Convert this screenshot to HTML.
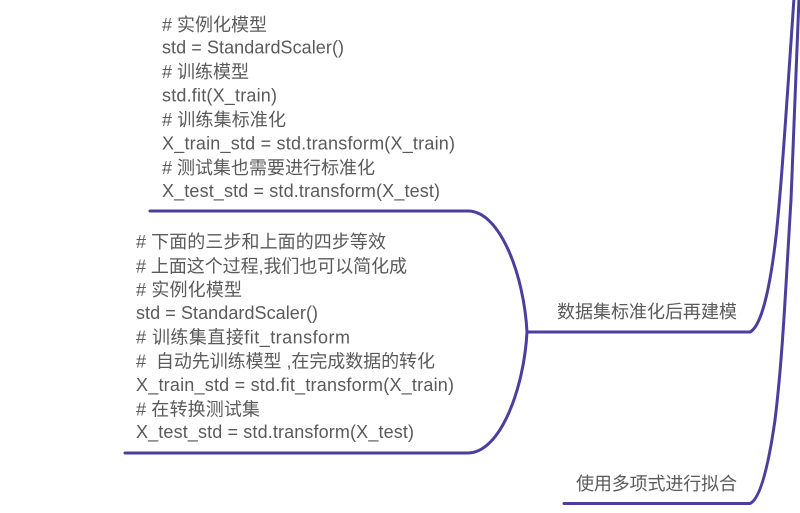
<!DOCTYPE html>
<html lang="zh">
<head>
<meta charset="utf-8">
<title>数据集标准化后再建模</title>
<style>
html,body{margin:0;padding:0;background:#fff;width:800px;height:513px;overflow:hidden}
svg{display:block}
text{font-family:"Liberation Sans","Noto Sans CJK SC",sans-serif;font-size:18px;fill:#5a5a5a}
g{filter:blur(.3px)}
path{fill:none;stroke:#4a3f9c;stroke-width:3;stroke-linecap:round}
</style>
</head>
<body>
<svg width="800" height="513" viewBox="0 0 800 513" xmlns="http://www.w3.org/2000/svg">
<path d="M150 211H468C500 211 524 275 527 332C524 389 500 453 468 453H125"/>
<path d="M527 332H750C762 326 770 285 775 245C780 205 785 130 794 -2"/>
<path d="M564 503.5H750C762 498 770 455 775 420C783 355 786 280 791 200C794 140 796 60 799 -2"/>
<g>
<text x="162" y="31" textLength="105" lengthAdjust="spacing">#&#160;实例化模型</text>
<text x="162" y="53.5" textLength="182" lengthAdjust="spacing">std = StandardScaler()</text>
<text x="162" y="78" textLength="87" lengthAdjust="spacing">#&#160;训练模型</text>
<text x="162" y="101.5" textLength="115" lengthAdjust="spacing">std.fit(X_train)</text>
<text x="162" y="126" textLength="124" lengthAdjust="spacing">#&#160;训练集标准化</text>
<text x="162" y="149.5" textLength="293" lengthAdjust="spacing">X_train_std = std.transform(X_train)</text>
<text x="162" y="174" textLength="213" lengthAdjust="spacing">#&#160;测试集也需要进行标准化</text>
<text x="162" y="197" textLength="278" lengthAdjust="spacing">X_test_std = std.transform(X_test)</text>

<text x="136" y="248" textLength="250" lengthAdjust="spacing">#&#160;下面的三步和上面的四步等效</text>
<text x="136" y="272.5" textLength="271" lengthAdjust="spacing">#&#160;上面这个过程,我们也可以简化成</text>
<text x="136" y="296" textLength="106" lengthAdjust="spacing">#&#160;实例化模型</text>
<text x="136" y="319" textLength="182" lengthAdjust="spacing">std = StandardScaler()</text>
<text x="136" y="343.5" textLength="214" lengthAdjust="spacing">#&#160;训练集直接fit_transform</text>
<text x="136" y="367.5" textLength="299" lengthAdjust="spacing">#&#160;&#160;自动先训练模型 ,在完成数据的转化</text>
<text x="136" y="391" textLength="318" lengthAdjust="spacing">X_train_std = std.fit_transform(X_train)</text>
<text x="136" y="415.5" textLength="124" lengthAdjust="spacing">#&#160;在转换测试集</text>
<text x="136" y="438" textLength="278" lengthAdjust="spacing">X_test_std = std.transform(X_test)</text>

<text x="557" y="318" textLength="180" lengthAdjust="spacing">数据集标准化后再建模</text>
<text x="576" y="490" textLength="161" lengthAdjust="spacing">使用多项式进行拟合</text>
</g>
</svg>
</body>
</html>
